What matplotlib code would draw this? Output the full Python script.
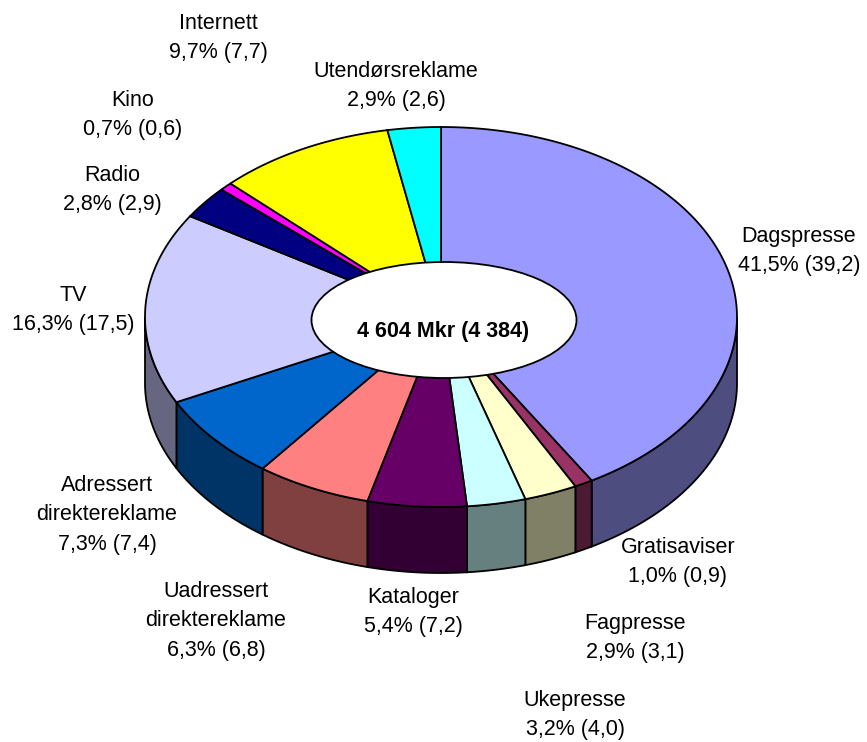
import numpy as np
import matplotlib.pyplot as plt
import matplotlib.colors as mcolors
from matplotlib.patches import Polygon, Ellipse

plt.rcParams['font.family'] = ['Liberation Sans', 'DejaVu Sans']

# ── Data ──────────────────────────────────────────
media = ['Dagspresse', 'Gratisaviser', 'Fagpresse', 'Ukepresse', 'Kataloger',
         'Uadressert\ndirektereklame', 'Adressert\ndirektereklame', 'TV',
         'Radio', 'Kino', 'Internett', 'Utendørsreklame']
share = [41.5, 1.0, 2.9, 3.2, 5.4, 6.3, 7.3, 16.3, 2.8, 0.7, 9.7, 2.9]
share_prev = [39.2, 0.9, 3.1, 4.0, 7.2, 6.8, 7.4, 17.5, 2.9, 0.6, 7.7, 2.6]
total_text = '4 604 Mkr (4 384)'

colors = ['#9999FF', '#993366', '#FFFFCC', '#CCFFFF', '#660066', '#FF8080',
          '#0066CC', '#CCCCFF', '#000080', '#FF00FF', '#FFFF00', '#00FFFF']

# label anchor (pixel coords of block centre)
label_pos = [(799, 251), (678, 562), (635, 638), (575, 715), (413, 612),
             (216, 621), (107, 515), (73, 310), (112, 190), (133, 115),
             (218, 38), (396, 86)]

# ── Figure ────────────────────────────────────────
fig = plt.figure(figsize=(8.67, 7.42), dpi=100)
ax = fig.add_axes([0, 0, 1, 1])
ax.set_xlim(0, 867)
ax.set_ylim(742, 0)
ax.axis('off')

cx, cy, rx, ry, depth = 441, 317, 296, 190, 66
bounds = 90 - 360 * np.concatenate([[0], np.cumsum(share)]) / sum(share)


def arc(a1, a2, dy=0):
    t = np.radians(np.linspace(a1, a2, 120))
    return np.column_stack([cx + rx * np.cos(t), cy - ry * np.sin(t) + dy])


def darker(c):
    r, g, b = mcolors.to_rgb(c)
    return (r * 0.5, g * 0.5, b * 0.5)


# side walls (front half of the pie)
for i in range(len(share)):
    a1, a2 = bounds[i], bounds[i + 1]
    s1, s2 = min(a1, 0), max(a2, -180)
    if s1 > s2:
        pts = np.vstack([arc(s1, s2), arc(s2, s1, depth)])
        ax.add_patch(Polygon(pts, closed=True, facecolor=darker(colors[i]),
                             edgecolor='black', linewidth=1.3, zorder=1))

# top faces
for i in range(len(share)):
    pts = np.vstack([[cx, cy], arc(bounds[i], bounds[i + 1])])
    ax.add_patch(Polygon(pts, closed=True, facecolor=colors[i],
                         edgecolor='black', linewidth=1.3, zorder=2))

# centre ellipse with total
ax.add_patch(Ellipse((444, 320), 265, 116, facecolor='white',
                     edgecolor='black', linewidth=1.3, zorder=3))
ax.text(443, 331, total_text, ha='center', va='center', fontsize=15.5,
        fontweight='bold', zorder=4)

# labels
line_h = 29.5
for i, name in enumerate(media):
    p = f"{share[i]:.1f}".replace('.', ',')
    q = f"{share_prev[i]:.1f}".replace('.', ',')
    lines = name.split('\n') + [f"{p}% ({q})"]
    x, yc = label_pos[i]
    n = len(lines)
    for k, ln in enumerate(lines):
        y = yc + (k - (n - 1) / 2) * line_h
        ax.text(x, y, ln, ha='center', va='center', fontsize=15.5)

plt.savefig('out.png', dpi=100)
